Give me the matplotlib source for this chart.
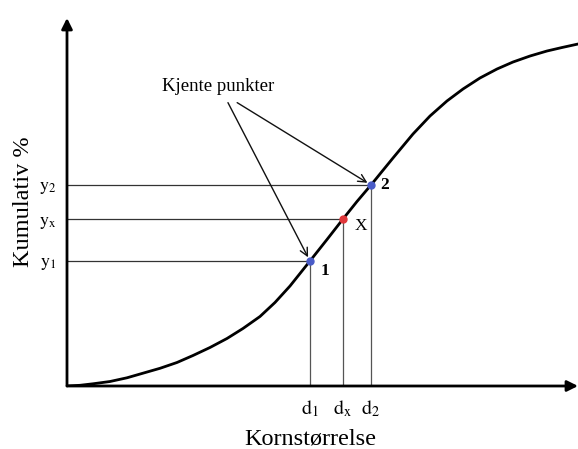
import matplotlib
matplotlib.use("Agg")
import matplotlib.pyplot as plt

plt.rcParams['font.family'] = ['Liberation Serif', 'DejaVu Serif']
plt.rcParams['mathtext.fontset'] = 'stix'

# Cumulative curve (grain size vs cumulative %)
curve_x = [0.0, 0.254, 0.509, 0.841, 1.174, 1.487, 1.820, 2.153, 2.466, 2.798,
           3.131, 3.444, 3.777, 4.070, 4.364, 4.755, 5.088, 5.401, 5.675, 5.949,
           6.164, 6.380, 6.771, 7.104, 7.436, 7.750, 8.082, 8.415, 8.728, 9.061,
           9.393, 9.687, 10.0]
curve_y = [0.0, 0.19, 0.60, 1.22, 2.23, 3.48, 4.81, 6.39, 8.29, 10.46,
           12.91, 15.63, 18.89, 22.69, 27.17, 33.97, 39.81, 45.38, 50.14, 54.62,
           58.29, 61.96, 68.48, 73.37, 77.45, 80.71, 83.70, 86.14, 88.04, 89.67,
           91.03, 91.98, 92.93]

# Known points and interpolated point
point_names = ['1', 'X', '2']
point_x = [4.755, 5.401, 5.949]
point_y = [33.97, 45.38, 54.62]
point_colors = ['#4a5cc8', '#e0363a', '#4a5cc8']
point_weights = ['bold', 'normal', 'bold']
x_tick_labels = [r'$\mathrm{d}_1$', r'$\mathrm{d}_\mathrm{x}$', r'$\mathrm{d}_2$']
y_tick_labels = [r'$\mathrm{y}_1$', r'$\mathrm{y}_\mathrm{x}$', r'$\mathrm{y}_2$']
label_offsets = [(11, -7), (13, -5), (10, 0)]

annotation_text = 'Kjente punkter'
xlabel = 'Kornstørrelse'
ylabel = 'Kumulativ %'

fig = plt.figure(figsize=(5.78, 4.49), dpi=100)
ax = fig.add_axes([67/578, 63/449, 511/578, 368/449])
ax.set_xlim(0, 10)
ax.set_ylim(0, 100)
for s in ax.spines.values():
    s.set_visible(False)

# guide lines
for px, py in zip(point_x, point_y):
    ax.plot([0, px], [py, py], color='#333333', lw=0.9, zorder=1)
    ax.plot([px, px], [0, py], color='#555555', lw=0.9, zorder=1)

ax.plot(curve_x, curve_y, color='black', lw=2.0, zorder=2,
        solid_capstyle='round', solid_joinstyle='round')

for px, py, c, n, w, off in zip(point_x, point_y, point_colors, point_names, point_weights, label_offsets):
    ax.plot([px], [py], 'o', color=c, ms=5, zorder=3)
    ax.annotate(n, (px, py), xytext=off, textcoords='offset points',
                ha='center', va='center', fontsize=12.5, fontweight=w)

# axis arrows
ax.annotate('', xy=(0, 1), xytext=(0, 0), xycoords='axes fraction',
            arrowprops=dict(arrowstyle='-|>', lw=2, color='black', shrinkA=0, shrinkB=0,
                            mutation_scale=16), annotation_clip=False)
ax.annotate('', xy=(1, 0), xytext=(0, 0), xycoords='axes fraction',
            arrowprops=dict(arrowstyle='-|>', lw=2, color='black', shrinkA=0, shrinkB=0,
                            mutation_scale=16), annotation_clip=False)

# "Kjente punkter" arrows
txt_x, txt_y = 2.955, 81.3
starts = [(3.15, 77.0), (3.33, 77.0)]
targets = [(point_x[0], point_y[0]), (point_x[2], point_y[2])]
ax.text(txt_x, txt_y, annotation_text, ha='center', va='center', fontsize=13.5)
for (sx, sy), (tx, ty) in zip(starts, targets):
    ax.annotate('', xy=(tx, ty), xytext=(sx, sy),
                arrowprops=dict(arrowstyle='->', lw=1.0, color='#111111',
                                shrinkA=0, shrinkB=3, mutation_scale=14))

ax.set_xticks(point_x)
ax.set_xticklabels(x_tick_labels, fontsize=14.5)
ax.set_yticks(point_y)
ax.set_yticklabels(y_tick_labels, fontsize=13)
ax.tick_params(length=0, pad=8)
ax.tick_params(axis='x', pad=9)

ax.set_xlabel(xlabel, fontsize=17.5, va='center')
ax.set_ylabel(ylabel, fontsize=17.5, va='center')
ax.xaxis.set_label_coords(0.476, -0.143)
ax.yaxis.set_label_coords(-0.085, 0.50)

fig.savefig('out.png', dpi=100)
